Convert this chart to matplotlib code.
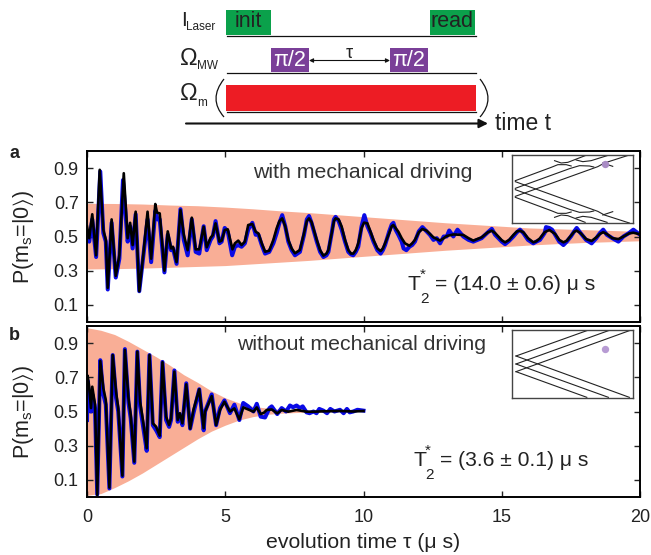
import matplotlib
matplotlib.use('Agg')
import matplotlib.pyplot as plt
from matplotlib.patches import Rectangle, PathPatch
from matplotlib.path import Path

plt.rcParams['font.family'] = ['Liberation Sans', 'DejaVu Sans']
plt.rcParams['mathtext.fontset'] = 'custom'
plt.rcParams['mathtext.rm'] = 'Liberation Sans'
plt.rcParams['mathtext.default'] = 'regular'

W, H = 651, 555

# panel a, black curve, (tau, P)
black_a = [(0.0, 0.56), (0.08, 0.49), (0.19, 0.63), (0.33, 0.39), (0.46, 0.89), (0.59, 0.54), (0.68, 0.48), (0.75, 0.20),
           (0.89, 0.60), (1.04, 0.27), (1.17, 0.39), (1.33, 0.87), (1.47, 0.49), (1.56, 0.58), (1.65, 0.45), (1.76, 0.645),
           (1.89, 0.18), (2.04, 0.40), (2.19, 0.645), (2.32, 0.37), (2.47, 0.69), (2.53, 0.64), (2.63, 0.635), (2.80, 0.30),
           (2.92, 0.53), (3.04, 0.43), (3.11, 0.44), (3.24, 0.35), (3.38, 0.655), (3.50, 0.51), (3.64, 0.42), (3.79, 0.61),
           (3.93, 0.425), (4.06, 0.425), (4.22, 0.557), (4.33, 0.437), (4.47, 0.493), (4.55, 0.508), (4.65, 0.577), (4.79, 0.47),
           (4.87, 0.476), (4.98, 0.538), (5.09, 0.542), (5.26, 0.425), (5.35, 0.46), (5.47, 0.476), (5.59, 0.45), (5.71, 0.47),
           (5.83, 0.567), (5.98, 0.573), (6.10, 0.528), (6.20, 0.518), (6.32, 0.46), (6.44, 0.411), (6.59, 0.417), (6.74, 0.48),
           (6.86, 0.548), (6.96, 0.59), (7.06, 0.606), (7.17, 0.56), (7.28, 0.48), (7.40, 0.43), (7.52, 0.402), (7.70, 0.421),
           (7.85, 0.52), (7.95, 0.59), (8.03, 0.606), (8.12, 0.585), (8.31, 0.48), (8.43, 0.42), (8.55, 0.388), (8.66, 0.40),
           (8.73, 0.421), (8.85, 0.52), (8.93, 0.59), (8.99, 0.606), (9.10, 0.60), (9.21, 0.558), (9.33, 0.48), (9.45, 0.421),
           (9.55, 0.40), (9.63, 0.40), (9.72, 0.42), (9.81, 0.46), (9.93, 0.55), (10.02, 0.581), (10.14, 0.577), (10.25, 0.53),
           (10.36, 0.48), (10.50, 0.43), (10.62, 0.415), (10.70, 0.43), (10.78, 0.46), (10.93, 0.52), (11.02, 0.56), (11.08, 0.567),
           (11.16, 0.55), (11.26, 0.528), (11.38, 0.49), (11.50, 0.46), (11.66, 0.446), (11.76, 0.46), (11.86, 0.48), (12.0, 0.525),
           (12.13, 0.544), (12.28, 0.534), (12.40, 0.515), (12.53, 0.495), (12.77, 0.476), (12.9, 0.49), (13.01, 0.503), (13.25, 0.512),
           (13.61, 0.509), (13.8, 0.49), (13.97, 0.476), (14.27, 0.495), (14.5, 0.525), (14.64, 0.534), (14.76, 0.52), (14.88, 0.499),
           (15.0, 0.478), (15.12, 0.466), (15.27, 0.48), (15.42, 0.509), (15.55, 0.53), (15.66, 0.534), (15.78, 0.525), (15.95, 0.49),
           (16.14, 0.466), (16.25, 0.472), (16.38, 0.489), (16.55, 0.525), (16.72, 0.538), (16.93, 0.515), (17.08, 0.48), (17.23, 0.466),
           (17.35, 0.475), (17.5, 0.505), (17.62, 0.528), (17.71, 0.534), (17.85, 0.52), (18.05, 0.485), (18.25, 0.474), (18.42, 0.495),
           (18.55, 0.515), (18.67, 0.525), (18.8, 0.515), (19.0, 0.49), (19.22, 0.485), (19.4, 0.50), (19.6, 0.518), (19.76, 0.522), (20.0, 0.513)]

# panel a, blue curve
blue_a = [(0.0, 0.50), (0.08, 0.47), (0.19, 0.60), (0.33, 0.38), (0.48, 0.88), (0.59, 0.52), (0.68, 0.47), (0.75, 0.19),
          (0.89, 0.58), (1.04, 0.26), (1.17, 0.37), (1.30, 0.83), (1.47, 0.47), (1.56, 0.56), (1.65, 0.43), (1.76, 0.63),
          (1.89, 0.18), (2.04, 0.39), (2.19, 0.60), (2.32, 0.35), (2.47, 0.65), (2.55, 0.60), (2.63, 0.60), (2.80, 0.29),
          (2.92, 0.51), (3.04, 0.42), (3.11, 0.43), (3.24, 0.34), (3.38, 0.66), (3.50, 0.48), (3.64, 0.39), (3.79, 0.60),
          (3.93, 0.41), (4.06, 0.40), (4.22, 0.56), (4.33, 0.42), (4.47, 0.48), (4.55, 0.50), (4.65, 0.59), (4.79, 0.46),
          (4.87, 0.47), (4.98, 0.55), (5.09, 0.53), (5.25, 0.39), (5.35, 0.44), (5.47, 0.45), (5.59, 0.44), (5.71, 0.46),
          (5.83, 0.54), (5.98, 0.58), (6.10, 0.51), (6.20, 0.51), (6.32, 0.45), (6.44, 0.40), (6.59, 0.41), (6.74, 0.46),
          (6.86, 0.52), (6.96, 0.58), (7.06, 0.625), (7.17, 0.56), (7.28, 0.47), (7.40, 0.42), (7.52, 0.39), (7.70, 0.41),
          (7.85, 0.51), (7.95, 0.60), (8.03, 0.62), (8.12, 0.58), (8.31, 0.47), (8.43, 0.41), (8.55, 0.38), (8.66, 0.39),
          (8.73, 0.41), (8.85, 0.52), (8.93, 0.60), (8.99, 0.615), (9.10, 0.59), (9.21, 0.54), (9.33, 0.47), (9.45, 0.41),
          (9.55, 0.395), (9.63, 0.39), (9.72, 0.41), (9.81, 0.44), (9.93, 0.56), (10.03, 0.625), (10.14, 0.56), (10.25, 0.52),
          (10.36, 0.47), (10.50, 0.42), (10.62, 0.40), (10.70, 0.42), (10.78, 0.45), (10.93, 0.53), (11.02, 0.57), (11.08, 0.58),
          (11.16, 0.54), (11.26, 0.51), (11.38, 0.47), (11.45, 0.43), (11.55, 0.42), (11.66, 0.44), (11.76, 0.45), (11.86, 0.47),
          (12.0, 0.53), (12.13, 0.555), (12.28, 0.53), (12.40, 0.51), (12.53, 0.48), (12.65, 0.49), (12.77, 0.46), (12.9, 0.50),
          (13.01, 0.50), (13.10, 0.535), (13.25, 0.50), (13.40, 0.54), (13.61, 0.50), (13.8, 0.48), (13.97, 0.47), (14.27, 0.49),
          (14.5, 0.525), (14.64, 0.545), (14.76, 0.51), (14.88, 0.49), (15.0, 0.47), (15.12, 0.455), (15.27, 0.475), (15.42, 0.50),
          (15.55, 0.525), (15.66, 0.54), (15.78, 0.52), (15.95, 0.48), (16.14, 0.46), (16.25, 0.47), (16.38, 0.48), (16.55, 0.52),
          (16.60, 0.555), (16.72, 0.55), (16.82, 0.54), (16.93, 0.51), (17.08, 0.47), (17.23, 0.45), (17.35, 0.47), (17.5, 0.50),
          (17.62, 0.53), (17.71, 0.55), (17.85, 0.52), (18.05, 0.48), (18.25, 0.46), (18.42, 0.49), (18.55, 0.52), (18.67, 0.54),
          (18.8, 0.51), (19.0, 0.49), (19.22, 0.47), (19.4, 0.50), (19.6, 0.52), (19.76, 0.54), (20.0, 0.51)]

# panel a, shaded envelope
env_tau_a = [0, 1, 2, 3, 4, 5, 6, 7, 8, 9, 10, 11, 12, 13, 14, 15, 16, 17, 18, 19, 20]
env_up_a = [.694, .693, .69, .684, .68, .672, .662, .65, .64, .628, .616, .604, .592, .58, .57, .56, .55, .545, .54, .535, .53]
env_lo_a = [.31, .312, .315, .32, .325, .33, .34, .35, .36, .372, .384, .396, .408, .42, .43, .44, .45, .458, .465, .47, .475]

# panel b, black curve
black_b = [(0.0, 0.66), (0.02, 0.71), (0.07, 0.655), (0.145, 0.52), (0.19, 0.645), (0.29, 0.54), (0.37, 0.012), (0.48, 0.795),
           (0.59, 0.636), (0.68, 0.567), (0.81, 0.055), (0.93, 0.83), (1.05, 0.616), (1.13, 0.519), (1.28, 0.125), (1.37, 0.86),
           (1.50, 0.577), (1.58, 0.48), (1.71, 0.207), (1.82, 0.85), (1.92, 0.558), (2.04, 0.431), (2.16, 0.285), (2.26, 0.83),
           (2.38, 0.431), (2.50, 0.411), (2.63, 0.359), (2.73, 0.788), (2.86, 0.47), (2.97, 0.421), (3.04, 0.46), (3.16, 0.733),
           (3.28, 0.45), (3.36, 0.49), (3.45, 0.431), (3.59, 0.659), (3.73, 0.40), (3.85, 0.51), (4.06, 0.63), (4.22, 0.402),
           (4.27, 0.499), (4.51, 0.59), (4.67, 0.421), (4.81, 0.509), (4.97, 0.557), (5.17, 0.50), (5.33, 0.518), (5.51, 0.454),
           (5.65, 0.524), (5.83, 0.512), (6.02, 0.499), (6.14, 0.524), (6.28, 0.485), (6.40, 0.493), (6.50, 0.509), (6.68, 0.512),
           (6.88, 0.489), (7.04, 0.509), (7.28, 0.499), (7.58, 0.509), (7.94, 0.499), (8.19, 0.499), (8.55, 0.501), (9.15, 0.503),
           (9.63, 0.50), (10.0, 0.503)]

# panel b, blue curve
blue_b = [(0.0, 0.45), (0.02, 0.68), (0.07, 0.60), (0.145, 0.50), (0.19, 0.60), (0.29, 0.52), (0.37, 0.015), (0.48, 0.80),
          (0.59, 0.60), (0.68, 0.54), (0.81, 0.05), (0.93, 0.83), (1.05, 0.58), (1.13, 0.50), (1.28, 0.12), (1.37, 0.865),
          (1.50, 0.55), (1.58, 0.46), (1.71, 0.20), (1.82, 0.85), (1.92, 0.53), (2.04, 0.40), (2.16, 0.27), (2.26, 0.83),
          (2.38, 0.42), (2.50, 0.39), (2.63, 0.35), (2.73, 0.79), (2.86, 0.45), (2.97, 0.41), (3.04, 0.45), (3.16, 0.74),
          (3.28, 0.44), (3.36, 0.48), (3.45, 0.42), (3.59, 0.665), (3.73, 0.40), (3.85, 0.49), (4.06, 0.63), (4.22, 0.39),
          (4.27, 0.50), (4.51, 0.60), (4.67, 0.42), (4.81, 0.52), (4.97, 0.565), (5.17, 0.49), (5.33, 0.54), (5.51, 0.45),
          (5.65, 0.55), (5.83, 0.53), (6.02, 0.50), (6.14, 0.545), (6.28, 0.47), (6.44, 0.465), (6.60, 0.52), (6.68, 0.53),
          (6.88, 0.485), (7.04, 0.52), (7.2, 0.50), (7.34, 0.535), (7.45, 0.525), (7.58, 0.535), (7.70, 0.52), (7.80, 0.53),
          (7.94, 0.495), (8.05, 0.49), (8.19, 0.50), (8.30, 0.49), (8.40, 0.515), (8.55, 0.505), (8.68, 0.49), (8.80, 0.515),
          (8.95, 0.50), (9.15, 0.51), (9.28, 0.49), (9.40, 0.515), (9.50, 0.495), (9.63, 0.50), (9.78, 0.51), (10.0, 0.505)]

# panel b, shaded envelope
env_tau_b = [0, 0.5, 1, 1.5, 2, 2.5, 3, 3.5, 4, 4.5, 5, 5.5, 6, 6.5, 7, 8, 9, 10]
env_up_b = [.99, .975, .95, .91, .865, .82, .77, .715, .67, .62, .58, .55, .53, .52, .512, .505, .502, .5]
env_lo_b = [.01, .02, .055, .095, .14, .19, .24, .29, .34, .385, .42, .45, .47, .483, .49, .497, .499, .5]

x_ticks = [0, 5, 10, 15, 20]
y_ticks = [0.1, 0.3, 0.5, 0.7, 0.9]

# level diagrams in the insets, in zoomed inset pixels
curves_top = [
    ([140, 160, 180, 232], [30, 37, 35, 15]),
    ([205, 225, 250, 298], [28, 33, 30, 15]),
    ([22, 130, 150, 175, 190], [90, 50, 42, 42, 46]),
    ([22, 185, 215, 245, 258], [113, 54, 45, 46, 49]),
    ([22, 270, 290, 365], [137, 48, 37, 13]),
    ([285, 315], [37, 47]),
]
lines_plain = [
    ([24, 237], [91, 15]),
    ([24, 302], [115, 15]),
    ([24, 365], [138, 15]),
    ([24, 237], [138, 215]),
    ([24, 302], [115, 215]),
    ([24, 365], [91, 215]),
]


def px_axes(x0, y0, x1, y1):
    return fig.add_axes([x0 / W, 1 - y1 / H, (x1 - x0) / W, (y1 - y0) / H])


def panel(ax, e_t, e_up, e_lo, blue, black):
    ax.fill_between(e_t, e_lo, e_up, color='#F9AE96', lw=0)
    ax.plot(*zip(*blue), color='#0A0AE6', lw=2.9, solid_joinstyle='round')
    ax.plot(*zip(*black), color='black', lw=1.9, solid_joinstyle='round')
    ax.set_xlim(0, 20)
    ax.set_ylim(0, 1)
    ax.set_xticks(x_ticks)
    ax.set_yticks(y_ticks)
    ax.set_yticklabels(['%.1f' % v for v in y_ticks])
    ax.tick_params(direction='in', top=True, right=True, length=4, width=1, labelsize=13,
                   colors='#222222', pad=6)
    ax.tick_params(axis='x', pad=9)
    for s in ax.spines.values():
        s.set_linewidth(1.4)


def inset(x0, y0, x1, y1, curves, dot_y, dot_color):
    a = px_axes(x0, y0, x1, y1)
    for xs, ys in curves:
        a.plot(xs, ys, color='#222222', lw=0.8)
        if curves is curves_top:
            a.plot(xs, [230 - v for v in ys], color='#222222', lw=0.8)
    a.scatter([291], [dot_y], s=28, color=dot_color, zorder=3, lw=0)
    a.set_xlim(12, 376)
    a.set_ylim(217, 13)
    a.set_xticks([])
    a.set_yticks([])
    for s in a.spines.values():
        s.set_linewidth(1.0)
        s.set_color('#444444')


fig = plt.figure(figsize=(W / 100, H / 100), dpi=100)

ax_a = px_axes(87, 151, 640, 322)
panel(ax_a, env_tau_a, env_up_a, env_lo_a, blue_a, black_a)
ax_a.set_xticklabels([])

ax_b = px_axes(87, 326, 640, 497)
panel(ax_b, env_tau_b, env_up_b, env_lo_b, blue_b, black_b)
ax_b.set_xticklabels([str(v) for v in x_ticks])

inset(512, 155, 633, 223, curves_top, 40, '#A98CC4')
inset(512, 155 + 175, 633, 223 + 175, lines_plain, 70, '#B79BD3')

# overlay in figure pixels for the pulse sequence and the labels
ov = fig.add_axes([0, 0, 1, 1], zorder=10)
ov.set_xlim(0, W)
ov.set_ylim(H, 0)
ov.axis('off')
ov.patch.set_alpha(0)

dark = '#222222'
seq_font = 15.5
ov.add_patch(Rectangle((226, 10), 45, 25, color='#0BA14B', lw=0))
ov.add_patch(Rectangle((430, 10), 45, 25, color='#0BA14B', lw=0))
ov.add_patch(Rectangle((271, 48), 38, 24, color='#7A3F98', lw=0))
ov.add_patch(Rectangle((390, 48), 38, 24, color='#7A3F98', lw=0))
ov.add_patch(Rectangle((226, 85), 250, 26, color='#ED1C24', lw=0))
for y in (35.7, 73, 111.5):
    ov.plot([227, 476], [y, y], color='#111111', lw=0.9)

ov.text(248.5, 21.5, 'init', ha='center', va='center', fontsize=seq_font, color=dark)
ov.text(452.5, 21.5, 'read', ha='center', va='center', fontsize=seq_font, color=dark)
ov.text(290, 60, 'π/2', ha='center', va='center', fontsize=seq_font, color='white')
ov.text(409, 60, 'π/2', ha='center', va='center', fontsize=seq_font, color='white')
ov.text(349, 54, 'τ', ha='center', va='center', fontsize=13, color=dark)
ov.annotate('', xy=(390, 60.5), xytext=(309, 60.5),
            arrowprops=dict(arrowstyle='<|-|>', color='#111111', lw=0.8, mutation_scale=6,
                            shrinkA=0, shrinkB=0))
ov.annotate('', xy=(488, 123.5), xytext=(186, 123.5),
            arrowprops=dict(arrowstyle='-|>', color='#111111', lw=1.5, mutation_scale=13,
                            shrinkA=0, shrinkB=0))
ov.text(495, 123, 'time t', ha='left', va='center', fontsize=16.5, color=dark)

ov.text(181, 20, 'I', ha='left', va='center', fontsize=15, color=dark)
ov.text(186, 27, 'Laser', ha='left', va='center', fontsize=8.5, color=dark)
ov.text(180, 59, 'Ω', ha='left', va='center', fontsize=17, color=dark)
ov.text(197, 66, 'MW', ha='left', va='center', fontsize=8.5, color=dark)
ov.text(180, 94, 'Ω', ha='left', va='center', fontsize=17, color=dark)
ov.text(197, 103, 'm', ha='left', va='center', fontsize=8.5, color=dark)

# big round brackets around the mechanical drive
for xs, ys in (([224, 208, 224], [79, 99, 117]), ([480, 496, 480], [79, 99, 117])):
    ov.add_patch(PathPatch(Path(list(zip(xs, ys)), [Path.MOVETO, Path.CURVE3, Path.CURVE3]),
                           fc='none', ec='#111111', lw=0.9))

ov.text(14, 154, 'a', ha='center', va='center', fontsize=13, fontweight='bold', color=dark)
ov.text(14, 336, 'b', ha='center', va='center', fontsize=13, fontweight='bold', color=dark)

ov.text(363, 172, 'with mechanical driving', ha='center', va='center', fontsize=15.3, color='#333333')
ov.text(362, 345, 'without mechanical driving', ha='center', va='center', fontsize=15.3, color='#333333')

for yc in (237, 412):
    ov.text(24, yc, r'P(m$_{s}$=|0$\rangle$)', rotation=90, ha='center', va='center', fontsize=15.5, color=dark)

ov.text(363, 542, 'evolution time τ (μ s)', ha='center', va='center', fontsize=15.3, color=dark)


def t2_label(x, y, txt):
    ov.text(x, y, 'T', ha='left', va='center', fontsize=15.2, color=dark)
    ov.text(x + 12, y + 14, '2', ha='left', va='center', fontsize=11, color=dark)
    ov.text(x + 12, y - 10, '*', ha='left', va='center', fontsize=11, color=dark)
    ov.text(x + 27, y, txt, ha='left', va='center', fontsize=15.2, color=dark)


t2_label(408, 285, '= (14.0 ± 0.6) μ s')
t2_label(413, 461, '= (3.6 ± 0.1) μ s')

fig.savefig('out.png', dpi=100)
